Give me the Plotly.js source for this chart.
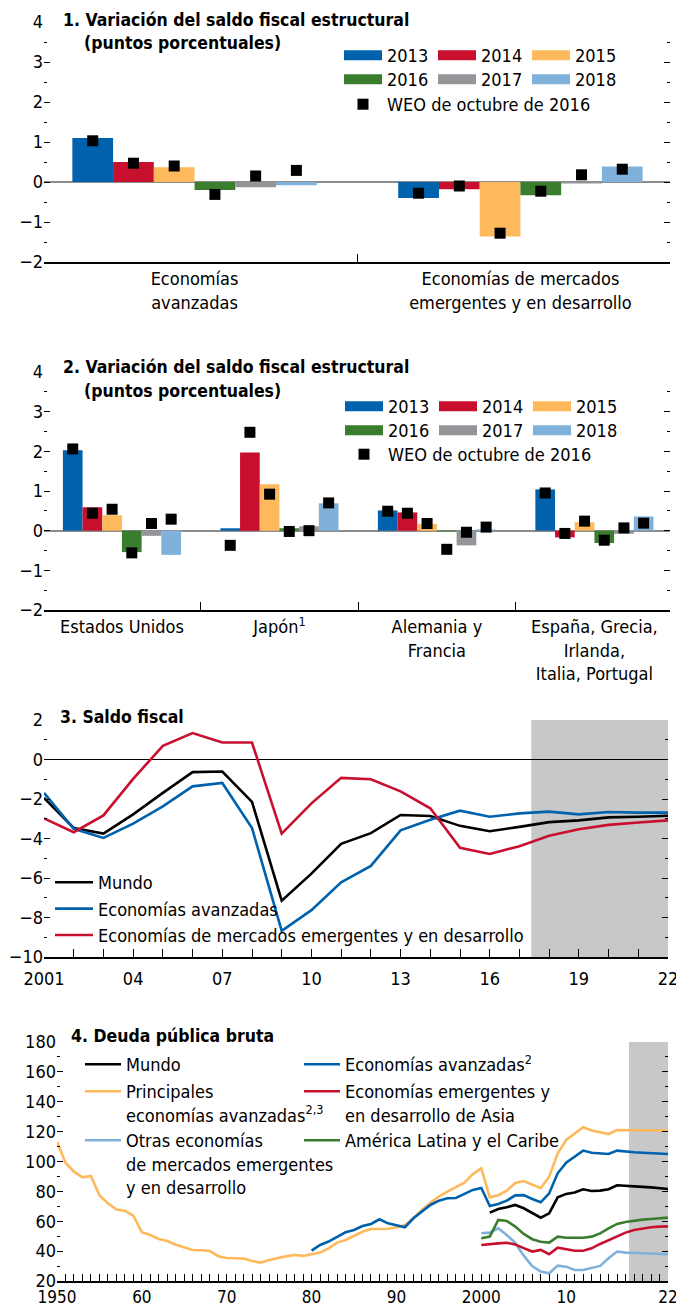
<!DOCTYPE html>
<html><head><meta charset="utf-8">
<script src="https://cdn.plot.ly/plotly-3.0.1.min.js"></script>
<style>html,body{margin:0;padding:0;background:#fff}#chart{width:676px;height:1306px}</style>
</head><body><div id="chart"></div>
<script>
const W = 676, H = 1306;
const FONT = "'Liberation Sans Narrow','Arial Narrow','DejaVu Sans Condensed',sans-serif";
const FS = 18;

// ---------- Panel 1 data ----------
const years = ['2013', '2014', '2015', '2016', '2017', '2018'];
const yearColors = ['#0062AC', '#C8102E', '#FDB95B', '#3A7D2E', '#939598', '#7FB1DB'];
const p1Categories = ['Economías<br>avanzadas', 'Economías de mercados<br>emergentes y en desarrollo'];
const p1Bar2013 = [1.10, -0.40];
const p1Bar2014 = [0.50, -0.18];
const p1Bar2015 = [0.37, -1.36];
const p1Bar2016 = [-0.20, -0.33];
const p1Bar2017 = [-0.13, -0.04];
const p1Bar2018 = [-0.08, 0.39];
const p1Weo2013 = [1.03, -0.28];
const p1Weo2014 = [0.47, -0.10];
const p1Weo2015 = [0.40, -1.28];
const p1Weo2016 = [-0.31, -0.23];
const p1Weo2017 = [0.15, 0.18];
const p1Weo2018 = [0.29, 0.32];

// ---------- Panel 2 data ----------
const p2Categories = ['Estados Unidos', 'Japón<sup>1</sup>', 'Alemania y<br>Francia', 'España, Grecia,<br>Irlanda,<br>Italia, Portugal'];
const p2Bar2013 = [2.03, 0.06, 0.51, 1.04];
const p2Bar2014 = [0.59, 1.97, 0.46, -0.17];
const p2Bar2015 = [0.39, 1.17, 0.17, 0.21];
const p2Bar2016 = [-0.54, 0.06, -0.02, -0.31];
const p2Bar2017 = [-0.13, 0.11, -0.37, -0.08];
const p2Bar2018 = [-0.61, 0.69, 0.03, 0.36];
const p2Weo2013 = [2.06, -0.37, 0.49, 0.95];
const p2Weo2014 = [0.44, 2.48, 0.44, -0.07];
const p2Weo2015 = [0.54, 0.92, 0.18, 0.24];
const p2Weo2016 = [-0.56, -0.02, -0.47, -0.24];
const p2Weo2017 = [0.18, 0.00, -0.04, 0.07];
const p2Weo2018 = [0.29, 0.70, 0.09, 0.19];
const weoName = 'WEO de octubre de 2016';

// ---------- Panel 3 data ----------
const p3Years = [2001,2002,2003,2004,2005,2006,2007,2008,2009,2010,2011,2012,2013,2014,2015,2016,2017,2018,2019,2020,2021,2022];
const p3Mundo = [-1.95,-3.47,-3.75,-2.78,-1.69,-0.64,-0.61,-2.15,-7.15,-5.78,-4.27,-3.73,-2.81,-2.86,-3.36,-3.63,-3.41,-3.17,-3.08,-2.93,-2.90,-2.85];
const p3Avanzadas = [-1.69,-3.51,-3.97,-3.25,-2.37,-1.36,-1.19,-3.47,-8.68,-7.63,-6.22,-5.39,-3.59,-3.05,-2.59,-2.90,-2.73,-2.64,-2.78,-2.66,-2.69,-2.69];
const p3Emergentes = [-2.98,-3.68,-2.83,-0.98,0.69,1.34,0.86,0.86,-3.75,-2.22,-0.93,-1.00,-1.61,-2.47,-4.47,-4.78,-4.39,-3.86,-3.53,-3.31,-3.19,-3.08];
const p3TickText = ['2001','','','04','','','07','','','10','','','13','','','16','','','19','','','22'];

// ---------- Panel 4 data ----------
const p4YearsPrincipales = [];
for (let y = 1950; y <= 2022; y++) p4YearsPrincipales.push(y);
const p4Principales = [113.3,99.2,93.2,89.4,90.3,77.4,72.0,67.8,67.1,63.8,
  52.6,50.8,48.1,46.8,44.3,42.3,40.8,40.6,40.1,36.6,
  35.4,35.2,35.0,33.4,32.3,34.1,35.4,36.5,37.4,36.8,
  37.9,39.0,41.9,45.7,47.5,50.1,53.0,54.8,55.0,55.0,
  55.8,57.5,62.0,67.6,72.4,76.5,79.8,82.7,85.8,91.6,
  95.4,76.0,77.4,80.5,85.6,86.9,84.3,82.1,89.9,105.5,
  114.4,118.9,122.9,120.7,119.5,118.4,121.1,121.0,120.7,120.5,
  120.5,120.5,120.7];
const p4YearsAvanzadas = [];
for (let y = 1980; y <= 2022; y++) p4YearsAvanzadas.push(y);
const p4Avanzadas = [40.3,44.1,46.4,49.7,52.6,54.2,56.8,58.2,61.3,58.6,
  57.3,56.0,62.0,66.5,70.9,73.8,75.4,75.6,78.1,81.0,
  82.3,70.2,71.6,73.8,77.3,77.5,74.9,72.7,78.7,92.1,
  99.2,103.2,107.3,105.9,105.5,105.0,107.3,106.6,106.2,105.9,
  105.7,105.5,105.0];
const p4YearsMundo = [];
for (let y = 2001; y <= 2022; y++) p4YearsMundo.push(y);
const p4Mundo = [65.8,68.2,69.4,70.9,68.7,65.3,62.4,65.3,76.0,78.3,79.2,81.4,80.3,80.5,81.4,84.1,83.9,83.4,83.0,82.7,82.3,81.6];
const p4YearsEmerg = [];
for (let y = 2000; y <= 2022; y++) p4YearsEmerg.push(y);
const p4Asia = [44.1,44.4,45.2,45.6,44.5,42.0,39.7,40.8,37.9,42.3,41.2,40.3,40.3,41.9,44.8,47.5,50.1,52.4,54.2,55.3,56.0,56.4,56.6];
const p4LatAm = [48.6,49.7,60.9,60.2,56.4,51.5,48.0,46.3,45.7,49.7,49.0,48.8,49.0,49.7,51.9,55.3,58.2,59.5,60.4,61.1,61.5,62.0,62.4];
const p4Otras = [52.0,52.4,55.3,50.8,45.5,37.0,30.0,26.3,25.2,30.3,29.6,27.4,27.4,28.5,30.1,35.2,39.7,39.0,38.6,38.6,38.4,38.2,38.0];
const p4TickLabels = {1950:'1950',1960:'60',1970:'70',1980:'80',1990:'90',2000:'2000',2010:'10',2022:'22'};
const p4TickText = p4YearsPrincipales.map(y => p4TickLabels[y] || '');

// ---------- colours ----------
const C_BLACK = '#000000', C_BLUE = '#0062AC', C_RED = '#C8102E', C_YELLOW = '#FDB95B', C_GREEN = '#3A7D2E', C_LIGHT = '#7FB1DB';
const SHADE = '#C7C8CA';

// ---------- helpers ----------
const py = p => 1 - p / H;
const pxx = p => p / W;

const p1Bars = [p1Bar2013, p1Bar2014, p1Bar2015, p1Bar2016, p1Bar2017, p1Bar2018];
const p1Weo = [p1Weo2013, p1Weo2014, p1Weo2015, p1Weo2016, p1Weo2017, p1Weo2018];
const p2Bars = [p2Bar2013, p2Bar2014, p2Bar2015, p2Bar2016, p2Bar2017, p2Bar2018];
const p2Weo = [p2Weo2013, p2Weo2014, p2Weo2015, p2Weo2016, p2Weo2017, p2Weo2018];

const traces = [];
function barPanel(cats, bars, weo, xa, ya, legRow1, legRow2, legRow3) {
  years.forEach((yr, i) => {
    traces.push({type: 'bar', x: cats, y: bars[i], xaxis: xa, yaxis: ya, offsetgroup: yr,
      marker: {color: yearColors[i], line: {width: 0}}, showlegend: false, name: yr, hoverinfo: 'skip'});
  });
  years.forEach((yr, i) => {
    traces.push({type: 'scatter', mode: 'markers', x: cats, y: weo[i], xaxis: xa, yaxis: ya, offsetgroup: yr,
      orientation: 'v', marker: {symbol: 'square', size: 11, color: '#000'},
      name: weoName, showlegend: i === 0, legend: legRow3, legendwidth: 220, hoverinfo: 'skip'});
  });
  // legend swatches (drawn on a hidden axis pair)
  years.forEach((yr, i) => {
    const t = {type: 'scatter', mode: 'lines', x: [null], y: [null], xaxis: 'x5', yaxis: 'y5',
      line: {color: yearColors[i], width: 10}, name: yr, showlegend: true, legend: i < 3 ? legRow1 : legRow2};
    if (i % 3 === 2) t.legendwidth = 60;
    traces.push(t);
  });
}
barPanel(p1Categories, p1Bars, p1Weo, 'x', 'y', 'legend', 'legend2', 'legend3');
barPanel(p2Categories, p2Bars, p2Weo, 'x2', 'y2', 'legend4', 'legend5', 'legend6');

// Panel 3
[[p3Mundo, 'Mundo', C_BLACK], [p3Avanzadas, 'Economías avanzadas', C_BLUE], [p3Emergentes, 'Economías de mercados emergentes y en desarrollo', C_RED]]
  .forEach(([vals, name, col]) => {
    traces.push({type: 'scatter', mode: 'lines', x: p3Years, y: vals, xaxis: 'x3', yaxis: 'y3', offsetgroup: 'p3',
      line: {color: col, width: 2.6}, name: name, legend: 'legend7', hoverinfo: 'skip'});
  });

// Panel 4
const p4Series = [
  [p4YearsPrincipales, p4Principales, 'Principales<br>economías avanzadas<sup>2,3</sup>', C_YELLOW, 'legend9', 1, 0],
  [p4YearsAvanzadas, p4Avanzadas, 'Economías avanzadas<sup>2</sup>', C_BLUE, 'legend8', 2, 230],
  [p4YearsMundo, p4Mundo, 'Mundo', C_BLACK, 'legend8', 1, 0],
  [p4YearsEmerg, p4Otras, 'Otras economías<br>de mercados emergentes<br>y en desarrollo', C_LIGHT, 'legend10', 1, 0],
  [p4YearsEmerg, p4LatAm, 'América Latina y el Caribe', C_GREEN, 'legend10', 2, 230],
  [p4YearsEmerg, p4Asia, 'Economías emergentes y<br>en desarrollo de Asia', C_RED, 'legend9', 2, 230]
];
p4Series.forEach(([xs, ys, name, col, leg, rank, lw]) => {
  const t = {type: 'scatter', mode: 'lines', x: xs, y: ys, xaxis: 'x4', yaxis: 'y4', offsetgroup: 'p4',
    line: {color: col, width: 2.6}, name: name, legend: leg, legendrank: rank, hoverinfo: 'skip'};
  if (lw) t.legendwidth = lw;
  traces.push(t);
});

// ---------- axes ----------
const tickFont = {family: FONT, size: FS, color: '#000'};
function yAx(domain, range, dtick, minorDtick, zeroColor, zeroWidth, anchor) {
  return {domain: domain, range: range, dtick: dtick, tick0: 0, ticks: 'inside', ticklen: 6, tickwidth: 1, tickcolor: '#000',
    mirror: 'ticks', showline: false, showgrid: false, zeroline: zeroColor !== null,
    zerolinecolor: zeroColor || '#000', zerolinewidth: zeroWidth, tickfont: tickFont, anchor: anchor,
    minor: {dtick: minorDtick, ticks: 'inside', ticklen: 3, tickcolor: '#000', showgrid: false},
    fixedrange: true};
}
const xDom = [pxx(44), pxx(670)];

const layout = {
  width: W, height: H, margin: {l: 0, r: 0, t: 0, b: 0, autoexpand: false},
  paper_bgcolor: '#fff', plot_bgcolor: 'rgba(0,0,0,0)',
  font: {family: FONT, size: FS, color: '#000'},
  barmode: 'group', bargap: 0.25, bargroupgap: 0,
  scattermode: 'group', scattergap: 0.25,
  showlegend: true,
  xaxis: {domain: xDom, type: 'category', categoryarray: p1Categories, range: [-0.462, 1.459], anchor: 'y',
    showline: true, linecolor: '#000', linewidth: 1.5, tickson: 'boundaries', ticks: 'inside', ticklen: 8,
    tickcolor: '#000', showgrid: false, tickfont: tickFont, fixedrange: true},
  yaxis: yAx([py(262), py(22)], [-2, 4], 1, 0.5, '#8C8C8C', 2, 'x'),
  xaxis2: {domain: xDom, type: 'category', categoryarray: p2Categories, range: [-0.495, 3.48], anchor: 'y2',
    showline: true, linecolor: '#000', linewidth: 1.5, tickson: 'boundaries', ticks: 'inside', ticklen: 8,
    tickcolor: '#000', showgrid: false, tickfont: tickFont, fixedrange: true},
  yaxis2: yAx([py(610), py(372)], [-2, 4], 1, 0.5, '#8C8C8C', 2, 'x2'),
  xaxis3: {domain: [pxx(44), pxx(668)], range: [2001, 2022], anchor: 'y3', showline: true, linecolor: '#000', linewidth: 1.5,
    tickmode: 'array', tickvals: p3Years, ticktext: p3TickText, ticks: 'inside', ticklen: 8, tickcolor: '#000',
    showgrid: false, zeroline: false, tickfont: tickFont, ticklabeloverflow: 'allow', ticklabelstandoff: 5, fixedrange: true},
  yaxis3: yAx([py(957), py(720)], [-10, 2], 2, 1, '#000', 1, 'x3'),
  xaxis4: {domain: [pxx(57), pxx(668)], range: [1950, 2022], anchor: 'y4', showline: true, linecolor: '#000', linewidth: 1.5,
    tickmode: 'array', tickvals: p4YearsPrincipales, ticktext: p4TickText, ticks: 'inside', ticklen: 7, tickcolor: '#000',
    showgrid: false, zeroline: false, tickfont: {family: FONT, size: 17, color: '#000'}, ticklabeloverflow: 'allow', fixedrange: true},
  yaxis4: yAx([py(1281), py(1042)], [20, 180], 20, 10, null, 1, 'x4'),
  xaxis5: {domain: [0, 0.001], visible: false, anchor: 'y5'},
  yaxis5: {domain: [0, 0.001], visible: false, anchor: 'x5'},
  shapes: [
    {type: 'rect', xref: 'x3', yref: 'y3', x0: 2017.4, x1: 2022, y0: -10, y1: 2, fillcolor: SHADE, line: {width: 0}, layer: 'below'},
    {type: 'rect', xref: 'x4', yref: 'y4', x0: 2017.4, x1: 2022, y0: 20, y1: 180, fillcolor: SHADE, line: {width: 0}, layer: 'below'}
  ],
  annotations: []
};

function title(text, xp, ycp) {
  layout.annotations.push({text: '<b>' + text + '</b>', xref: 'paper', yref: 'paper', x: pxx(xp), y: py(ycp),
    xanchor: 'left', yanchor: 'middle', showarrow: false, font: {family: FONT, size: 17.5, color: '#000'}});
}
title('1. Variación del saldo fiscal estructural', 61, 20);
title('(puntos porcentuales)', 82, 43);
title('2. Variación del saldo fiscal estructural', 61, 367);
title('(puntos porcentuales)', 82, 391);
title('3. Saldo fiscal', 58, 717);
title('4. Deuda pública bruta', 69, 1036);

function legendRow(xSwatch, yCenter, itemw, entryw, vertical) {
  return {orientation: vertical ? 'v' : 'h', x: pxx(xSwatch - 5), xanchor: 'left', y: py(yCenter - 19), yanchor: 'top',
    bgcolor: 'rgba(0,0,0,0)', borderwidth: 0, font: {family: FONT, size: FS, color: '#000'},
    itemwidth: itemw, entrywidth: entryw, entrywidthmode: 'pixels', valign: 'top', tracegroupgap: 0,
    itemclick: false, itemdoubleclick: false, traceorder: 'normal'};
}
layout.legend = legendRow(344, 56, 38, 41);
layout.legend2 = legendRow(344, 80, 38, 41);
layout.legend3 = legendRow(344, 105, 38, 41);
layout.legend4 = legendRow(345, 407, 38, 41);
layout.legend5 = legendRow(345, 431, 38, 41);
layout.legend6 = legendRow(345, 455, 38, 41);
layout.legend7 = legendRow(55, 883, 38, 0, true);
layout.legend8 = legendRow(85, 1065, 36, 168);
layout.legend9 = legendRow(85, 1092, 36, 168);
layout.legend10 = legendRow(85, 1141, 36, 168);

Plotly.newPlot('chart', traces, layout, {staticPlot: true, displayModeBar: false});
</script>
</body></html>
